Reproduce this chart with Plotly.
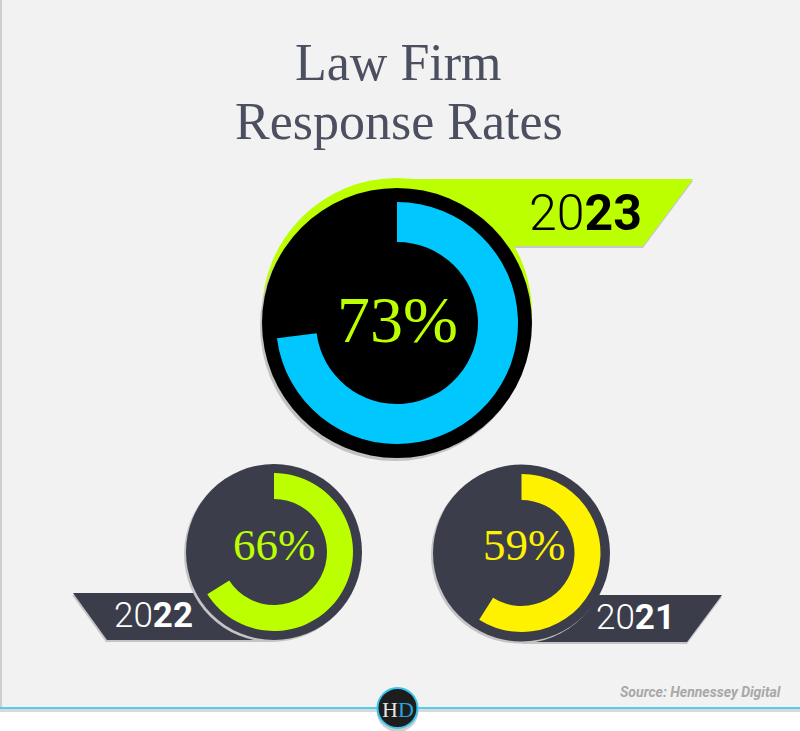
import plotly.graph_objects as go

W, H = 800, 731

# ---- data ----
years = ["2023", "2022", "2021"]
rates = [73, 66, 59]
ring_colors = ["#00c8ff", "#bbff00", "#fff200"]
label_colors = ["#bbff00", "#bbff00", "#fff200"]
title_lines = ["Law Firm", "Response Rates"]
source_text = "Source: Hennessey Digital"

# ---- layout constants (pixels, y measured from top) ----
SLATE = "#3b3d4a"
LIME = "#bbff00"
centers = [(397, 323), (274, 552), (521.5, 553)]
disc_r = [135, 88, 88.5]
ring_outer = [121, 79, 79]
ring_inner = [81, 53, 53]


def circle(cx, cy, r, fill, line=None):
    return dict(type="circle", xref="x", yref="y", x0=cx - r, x1=cx + r, y0=cy - r, y1=cy + r,
                fillcolor=fill, line=line or dict(width=0), layer="below")


def poly(pts, fill):
    d = "M" + " L".join(f"{x},{y}" for x, y in pts) + " Z"
    return dict(type="path", xref="x", yref="y", path=d, fillcolor=fill, line=dict(width=0), layer="below")


def rect(x0, y0, x1, y1, fill):
    return dict(type="rect", xref="x", yref="y", x0=x0, x1=x1, y0=y0, y1=y1,
                fillcolor=fill, line=dict(width=0), layer="below")


fig = go.Figure()

# donut rings
for i in range(len(years)):
    cx, cy = centers[i]
    ro = ring_outer[i]
    fig.add_trace(go.Pie(
        values=[rates[i], 100 - rates[i]],
        marker=dict(colors=[ring_colors[i], "rgba(0,0,0,0)"], line=dict(width=0)),
        hole=ring_inner[i] / ro,
        sort=False, direction="clockwise", rotation=0,
        textinfo="none", hoverinfo="skip", showlegend=False,
        domain=dict(x=[(cx - ro) / W, (cx + ro) / W], y=[1 - (cy + ro) / H, 1 - (cy - ro) / H]),
    ))

shapes = [
    rect(0, 0, W, 708, "#f2f2f2"),
    rect(0, 0, 2, 708, "#cfcfcf"),
    rect(0, 709, W, 712, "#d9d9d9"),
]

# 2023 block
(cx, cy), r = centers[0], disc_r[0]
shapes += [
    poly([(cx, 181), (693, 181), (643, 248), (cx, 248)], "#c8c8c8"),
    circle(cx, cy - 10, r, LIME),
    poly([(cx, 179), (693, 179), (643, 246), (cx, 246)], LIME),
    circle(cx - 2, cy + 3, r, "#c2c2c2"),
    circle(cx, cy, r, "#000000"),
]

# 2022 block
(cx, cy), r = centers[1], disc_r[1]
shapes += [
    poly([(72, 595), (cx, 595), (cx, 642), (106, 642)], "#c4c4c4"),
    poly([(73, 593), (cx, 593), (cx, 640), (107, 640)], SLATE),
    circle(cx - 2, cy + 2, r, "#c4c4c4"),
    circle(cx, cy, r, SLATE),
]

# 2021 block
(cx, cy), r = centers[2], disc_r[2]
shapes += [
    poly([(cx, 597), (722, 597), (687, 644), (cx, 644)], "#c4c4c4"),
    poly([(cx, 595), (722, 595), (687, 642), (cx, 642)], SLATE),
    circle(cx - 2, cy + 2, r, "#c4c4c4"),
    circle(cx, cy, r, SLATE),
]

# footer line + logo
shapes += [
    dict(type="line", xref="x", yref="y", x0=0, x1=W, y0=708, y1=708,
         line=dict(color="#4fcff2", width=2), layer="below"),
    circle(397.5, 711, 21, "#cfcfcf"),
    circle(397.5, 708, 20, "#1d1d1d", line=dict(color="#39c6ee", width=2)),
]

ann = []
serif = "Liberation Serif"
# title: two tight lines (font boxes just touch)
ann.append(dict(x=398, y=62, text=title_lines[0], font=dict(family=serif, size=52, color="#4b4f60")))
ann.append(dict(x=399, y=121, text=title_lines[1], font=dict(family=serif, size=52, color="#4b4f60")))

# percentages
pct_pos = [(397, 319, 66), (274, 545, 45), (524, 545, 45)]
for i, (px, py, fs) in enumerate(pct_pos):
    ann.append(dict(x=px, y=py, text=f"{rates[i]}%", font=dict(family=serif, size=fs, color=label_colors[i])))

# year labels
year_pos = [(644, 213, 50, "#000000"), (195, 615, 35, "#ffffff"), (677, 617, 35, "#ffffff")]
for i, (px, py, fs, col) in enumerate(year_pos):
    y = years[i]
    ann.append(dict(x=px, y=py, xanchor="right", text=f"{y[:2]}<b>{y[2:]}</b>",
                    font=dict(family="Roboto", size=fs, color=col, weight=300)))

ann.append(dict(x=783, y=692, xanchor="right", text=source_text,
                font=dict(family="Roboto", size=14, color="#a8a8a8", weight="bold", style="italic")))
ann.append(dict(x=397.5, y=709, text="H<span style='color:#2ba6dc'>D</span>",
                font=dict(family=serif, size=22, color="#e6e6e6")))

for a in ann:
    a.setdefault("xanchor", "center")
    a.update(xref="x", yref="y", yanchor="middle", showarrow=False)

fig.update_layout(
    width=W, height=H, autosize=False,
    margin=dict(l=0, r=0, t=0, b=0),
    paper_bgcolor="#ffffff", plot_bgcolor="rgba(0,0,0,0)",
    xaxis=dict(range=[0, W], visible=False, fixedrange=True),
    yaxis=dict(range=[H, 0], visible=False, fixedrange=True),
    shapes=shapes, annotations=ann, showlegend=False,
)

fig.write_html("out.html", config=dict(displayModeBar=False),
               post_script="document.body.style.margin='0';")
